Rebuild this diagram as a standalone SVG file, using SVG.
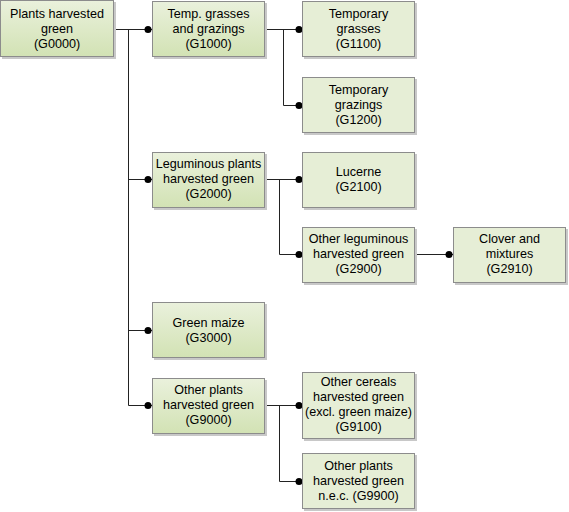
<svg xmlns="http://www.w3.org/2000/svg" width="569" height="512" viewBox="0 0 569 512">
<defs>
<linearGradient id="gr" x1="0" y1="0" x2="0" y2="1">
<stop offset="0" stop-color="#eaf1dc"/>
<stop offset="1" stop-color="#d2e2b4"/>
</linearGradient>
</defs>
<style>
.sh{fill:#c8c8c8}
.p{fill:url(#gr);stroke:#8c8c8c;stroke-width:1}
.l{fill:#e6eed6;stroke:#8c8c8c;stroke-width:1}
text{font-family:"Liberation Sans",Arial,sans-serif;font-size:12.6px;fill:#000;text-anchor:middle}
.c{fill:none;stroke:#222;stroke-width:1}
.d{fill:#000}
</style>
<rect width="569" height="512" fill="#fff"/>
<g id="connectors">
<path class="c" d="M114.5 29.5H152M128.5 29.5V405.5M128.5 179.5H152M128.5 330.5H152M128.5 405.5H152"/>
<path class="c" d="M265.5 29.5H302M283.5 29.5V105.5H302"/>
<path class="c" d="M265.5 179.5H302M279.5 179.5V254.5H302"/>
<path class="c" d="M415.5 254.5H453"/>
<path class="c" d="M265.5 405.5H302M279.5 405.5V481.5H302"/>
<circle class="d" cx="148" cy="29.5" r="3.5"/>
<circle class="d" cx="148" cy="179.5" r="3.5"/>
<circle class="d" cx="148" cy="330.5" r="3.5"/>
<circle class="d" cx="148" cy="405.5" r="3.5"/>
<circle class="d" cx="299" cy="29.5" r="3.5"/>
<circle class="d" cx="299" cy="105.5" r="3.5"/>
<circle class="d" cx="299" cy="179.5" r="3.5"/>
<circle class="d" cx="299" cy="254.5" r="3.5"/>
<circle class="d" cx="449" cy="254.5" r="3.5"/>
<circle class="d" cx="299" cy="405.5" r="3.5"/>
<circle class="d" cx="299" cy="481.5" r="3.5"/>
</g>
<g id="G0000">
<rect class="sh" x="2" y="2" width="114" height="57"/>
<rect class="p" x="0.5" y="0.5" width="113" height="56"/>
<text x="57" y="18">Plants harvested</text><text x="57" y="33">green</text><text x="57" y="48">(G0000)</text>
</g>
<g id="G1000">
<rect class="sh" x="154" y="3" width="113" height="56"/>
<rect class="p" x="152.5" y="1.5" width="112" height="55"/>
<text x="208.5" y="18">Temp. grasses</text><text x="208.5" y="33">and grazings</text><text x="208.5" y="48">(G1000)</text>
</g>
<g id="G1100">
<rect class="sh" x="304" y="3" width="113" height="56"/>
<rect class="l" x="302.5" y="1.5" width="112" height="55"/>
<text x="358.5" y="18">Temporary</text><text x="358.5" y="33">grasses</text><text x="358.5" y="48">(G1100)</text>
</g>
<g id="G1200">
<rect class="sh" x="304" y="79" width="113" height="56"/>
<rect class="l" x="302.5" y="77.5" width="112" height="55"/>
<text x="358.5" y="94">Temporary</text><text x="358.5" y="109">grazings</text><text x="358.5" y="124">(G1200)</text>
</g>
<g id="G2000">
<rect class="sh" x="154" y="154" width="113" height="56"/>
<rect class="p" x="152.5" y="152.5" width="112" height="55"/>
<text x="208.5" y="168">Leguminous plants</text><text x="208.5" y="183">harvested green</text><text x="208.5" y="198">(G2000)</text>
</g>
<g id="G2100">
<rect class="sh" x="304" y="154" width="113" height="56"/>
<rect class="l" x="302.5" y="152.5" width="112" height="55"/>
<text x="358.5" y="176">Lucerne</text><text x="358.5" y="191">(G2100)</text>
</g>
<g id="G2900">
<rect class="sh" x="304" y="229" width="113" height="56"/>
<rect class="l" x="302.5" y="227.5" width="112" height="55"/>
<text x="358.5" y="243">Other leguminous</text><text x="358.5" y="258">harvested green</text><text x="358.5" y="273">(G2900)</text>
</g>
<g id="G2910">
<rect class="sh" x="455" y="229" width="113" height="56"/>
<rect class="l" x="453.5" y="227.5" width="112" height="55"/>
<text x="509.5" y="243">Clover and</text><text x="509.5" y="258">mixtures</text><text x="509.5" y="273">(G2910)</text>
</g>
<g id="G3000">
<rect class="sh" x="154" y="304" width="113" height="56"/>
<rect class="p" x="152.5" y="302.5" width="112" height="55"/>
<text x="208.5" y="327">Green maize</text><text x="208.5" y="342">(G3000)</text>
</g>
<g id="G9000">
<rect class="sh" x="154" y="380" width="113" height="56"/>
<rect class="p" x="152.5" y="378.5" width="112" height="55"/>
<text x="208.5" y="394">Other plants</text><text x="208.5" y="409">harvested green</text><text x="208.5" y="424">(G9000)</text>
</g>
<g id="G9100">
<rect class="sh" x="304" y="374" width="113" height="67"/>
<rect class="l" x="302.5" y="372.5" width="112" height="66"/>
<text x="358.5" y="386">Other cereals</text><text x="358.5" y="401">harvested green</text><text x="358.5" y="416">(excl. green maize)</text><text x="358.5" y="431">(G9100)</text>
</g>
<g id="G9900">
<rect class="sh" x="304" y="455" width="113" height="56"/>
<rect class="l" x="302.5" y="453.5" width="112" height="55"/>
<text x="358.5" y="470">Other plants</text><text x="358.5" y="485">harvested green</text><text x="358.5" y="500">n.e.c. (G9900)</text>
</g>
</svg>
